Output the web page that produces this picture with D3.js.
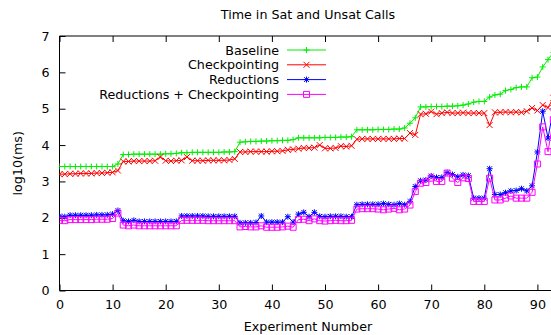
<!DOCTYPE html>
<html>
<head>
<meta charset="utf-8">
<script src="https://cdn.jsdelivr.net/npm/d3@7"></script>
<style>
  body { margin: 0; background: #fff; }
  text { font-family: "DejaVu Sans", sans-serif; font-size: 12.7px; fill: #000; }
</style>
</head>
<body>
<div id="chart"></div>
<script>
var width = 551
var height = 335
var padding = { top: 36, left: 59.5, bottom: 44.5 };

// data, one value per experiment (0..93)
var baseline = [3.41,3.41,3.41,3.41,3.41,3.41,3.41,3.41,3.41,3.41,3.41,
  3.48,
  3.74,3.74,3.75,3.75,3.75,3.75,3.75,3.75,3.76,3.76,3.77,
  3.79,3.79,3.8,3.8,3.8,3.8,3.8,3.8,3.81,3.81,3.82,
  4.08,4.09,4.1,4.1,4.11,4.11,4.12,4.12,4.13,4.13,4.15,
  4.2,4.2,4.2,4.2,4.2,4.21,4.21,4.21,4.22,4.22,4.23,
  4.42,4.42,4.42,4.42,4.43,4.43,4.43,4.44,4.44,
  4.47,4.6,4.75,
  5.05,5.05,5.06,5.06,5.06,5.07,5.07,5.08,
  5.1,5.13,5.18,5.2,5.2,5.32,5.38,5.4,5.5,5.53,5.58,5.6,5.6,
  5.85,5.87,6.15,6.35,6.55];

var checkpointing = [3.2,3.2,3.21,3.21,3.22,3.22,3.22,3.23,3.23,3.24,3.25,
  3.3,
  3.55,3.55,3.56,3.56,3.56,3.56,3.57,
  3.67,
  3.57,3.56,3.57,3.58,
  3.67,
  3.57,3.57,3.57,3.58,3.58,3.58,3.58,3.59,3.62,
  3.81,3.81,3.82,3.82,3.82,3.82,3.83,3.83,3.84,
  3.87,3.88,3.9,3.92,3.92,3.93,4.0,3.91,3.91,3.92,3.97,3.96,3.98,
  4.16,4.17,4.17,4.17,4.17,4.17,4.17,4.17,4.18,4.18,
  4.33,4.28,4.85,
  4.86,4.92,4.85,4.88,4.9,4.88,4.88,4.89,4.88,4.88,4.88,4.88,
  4.55,
  4.9,4.9,4.91,4.9,4.91,4.9,
  4.93,5.02,4.95,5.1,5.03,5.3];

var reductions = [2.05,2.03,2.07,2.07,2.07,2.07,2.07,2.08,2.08,2.08,2.1,
  2.2,
  1.92,1.9,1.93,1.9,1.9,1.9,1.9,1.9,1.9,1.9,
  1.9,
  2.05,2.05,2.05,2.05,2.05,2.04,2.04,2.04,2.04,2.04,2.04,
  1.86,1.86,1.86,1.87,2.05,1.88,1.88,1.88,1.88,2.03,1.88,
  2.1,2.15,2.03,2.15,
  2.04,2.03,2.04,2.04,2.04,2.03,2.03,
  2.36,2.37,2.37,2.37,2.37,2.39,2.37,2.36,2.39,2.36,
  2.45,2.86,3.02,3.04,3.15,3.11,3.11,3.24,3.19,3.13,3.18,3.16,
  2.54,2.54,2.54,3.35,
  2.64,2.64,2.69,2.74,2.75,2.8,2.74,2.88,
  3.81,4.93,4.19,5.0];

var reductionsCheckpointing = [1.93,1.92,1.95,1.95,1.95,1.95,1.95,1.96,1.96,1.96,1.98,
  2.13,
  1.8,1.78,1.8,1.78,1.78,1.78,1.78,1.78,1.78,1.78,
  1.78,
  1.93,1.93,1.93,1.93,1.93,1.92,1.92,1.92,1.92,1.92,1.92,
  1.75,1.76,1.75,1.75,1.78,1.74,1.74,1.74,1.75,1.77,1.74,
  1.95,1.96,1.92,1.97,1.92,1.91,1.92,1.93,1.92,1.92,1.93,
  2.24,2.25,2.25,2.25,2.24,2.22,2.24,2.26,2.22,2.24,
  2.35,2.72,2.95,2.97,3.09,3.0,3.0,3.23,3.09,2.97,3.1,3.08,
  2.45,2.45,2.45,3.09,
  2.49,2.49,2.54,2.6,2.54,2.54,2.54,2.7,
  3.48,4.5,3.82,4.7];

var seriesNames = ['Baseline', 'Checkpointing', 'Reductions', 'Reductions + Checkpointing'];
var seriesColors = ['#00ee00', '#ff0000', '#0000ff', '#ff00ff'];
var seriesMarks = ['plus', 'cross', 'star', 'square'];
var xTicks = [0, 10, 20, 30, 40, 50, 60, 70, 80, 90];
var yTicks = [0, 1, 2, 3, 4, 5, 6, 7];

var series = [baseline, checkpointing, reductions, reductionsCheckpointing];

var svg = d3.select('#chart')
    .append('svg')
    .attr('width', width)
    .attr('height', height);

svg.append('rect').attr('width', width).attr('height', height).attr('fill', '#fff');

// x range runs past the window edge, the original picture is cut off on the right
var xScale = d3.scaleLinear()
    .domain([0, 100])
    .range([padding.left, padding.left + 531]);
var yScale = d3.scaleLinear()
    .domain([0, 7])
    .range([height - padding.bottom, padding.top]);

var plotRight = xScale(100);

svg.append('defs').append('clipPath').attr('id', 'plot-clip')
    .append('rect')
    .attr('x', padding.left)
    .attr('y', padding.top)
    .attr('width', plotRight - padding.left)
    .attr('height', yScale(0) - padding.top);

// axes, gnuplot style: ticks inward, mirrored on the top
var xAxisBottom = d3.axisBottom(xScale).tickValues(xTicks).tickSize(-6).tickPadding(9).tickFormat(d3.format('d'));
var xAxisTop = d3.axisTop(xScale).tickValues(xTicks).tickSize(-6).tickFormat('');
var yAxisLeft = d3.axisLeft(yScale).tickValues(yTicks).tickSize(-6).tickPadding(10).tickFormat(d3.format('d'));

svg.append('g')
    .attr('transform', 'translate(0,' + yScale(0) + ')')
    .call(xAxisBottom)
    .call(function(g) { g.select('.domain').attr('d', 'M' + padding.left + ',0H' + plotRight); });
svg.append('g')
    .attr('transform', 'translate(0,' + padding.top + ')')
    .call(xAxisTop)
    .call(function(g) { g.select('.domain').attr('d', 'M' + padding.left + ',0H' + plotRight); });
svg.append('g')
    .attr('transform', 'translate(' + padding.left + ',0)')
    .call(yAxisLeft)
    .call(function(g) { g.select('.domain').attr('d', 'M0,' + yScale(0) + 'V' + padding.top); });

svg.selectAll('.domain').attr('stroke', '#000').attr('stroke-width', 1);
svg.selectAll('.tick line').attr('stroke', '#000');
svg.selectAll('.tick text')
    .style('font-family', '"DejaVu Sans", sans-serif')
    .style('font-size', '12.7px')
    .attr('fill', '#000');

// titles
svg.append('text')
    .attr('x', 308)
    .attr('y', 19)
    .attr('text-anchor', 'middle')
    .text('Time in Sat and Unsat Calls');
svg.append('text')
    .attr('x', 308)
    .attr('y', 331)
    .attr('text-anchor', 'middle')
    .text('Experiment Number');
svg.append('text')
    .attr('transform', 'translate(22,' + yScale(3.5) + ') rotate(-90)')
    .attr('text-anchor', 'middle')
    .text('log10(ms)');

function markPath(type, s) {
    if (type === 'plus') return 'M' + (-s) + ',0H' + s + 'M0,' + (-s) + 'V' + s;
    if (type === 'cross') return 'M' + (-s) + ',' + (-s) + 'L' + s + ',' + s + 'M' + (-s) + ',' + s + 'L' + s + ',' + (-s);
    if (type === 'star') return markPath('plus', s) + markPath('cross', s * 0.8);
    return 'M' + (-s) + ',' + (-s) + 'H' + s + 'V' + s + 'H' + (-s) + 'Z';
}

var line = d3.line()
    .x(function(d, i) { return xScale(i); })
    .y(function(d) { return yScale(d); });

var plot = svg.append('g').attr('clip-path', 'url(#plot-clip)');

for (var k = 0; k < series.length; k++) {
    var g = plot.append('g');
    g.append('path')
        .datum(series[k])
        .attr('d', line)
        .attr('fill', 'none')
        .attr('stroke', seriesColors[k])
        .attr('stroke-width', 1);
    g.selectAll('.mark')
        .data(series[k])
        .enter().append('path')
        .attr('transform', function(d, i) { return 'translate(' + xScale(i) + ',' + yScale(d) + ')'; })
        .attr('d', markPath(seriesMarks[k], 3))
        .attr('fill', 'none')
        .attr('stroke', seriesColors[k])
        .attr('stroke-width', 1);
}

// legend
var legend = svg.append('g');
for (var j = 0; j < seriesNames.length; j++) {
    var ly = 50 + j * 14.8;
    legend.append('text')
        .attr('x', 279)
        .attr('y', ly + 4.5)
        .attr('text-anchor', 'end')
        .text(seriesNames[j]);
    legend.append('line')
        .attr('x1', 287).attr('x2', 326)
        .attr('y1', ly).attr('y2', ly)
        .attr('stroke', seriesColors[j]);
    legend.append('path')
        .attr('transform', 'translate(306.5,' + ly + ')')
        .attr('d', markPath(seriesMarks[j], 3))
        .attr('fill', 'none')
        .attr('stroke', seriesColors[j]);
}
</script>
</body>
</html>
